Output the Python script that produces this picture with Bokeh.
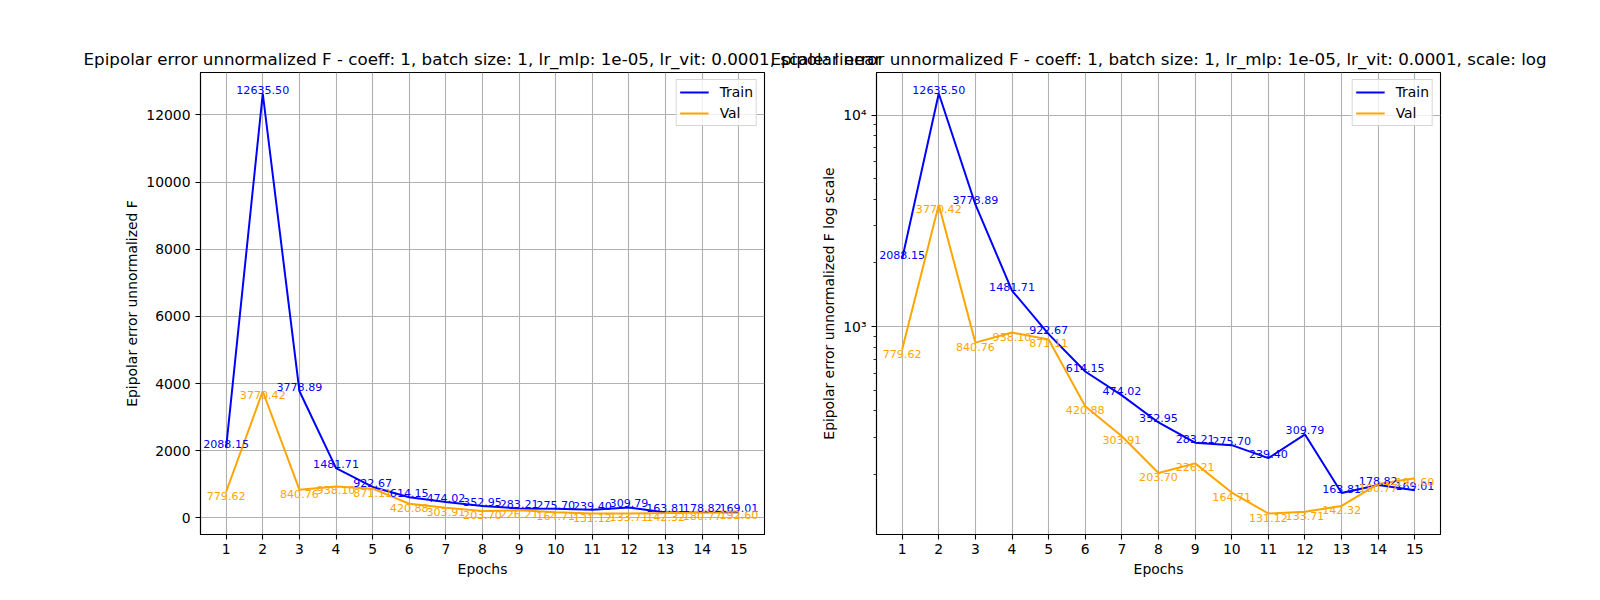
from bokeh.plotting import figure
from bokeh.layouts import column, row
from bokeh.models import ColumnDataSource, Range1d, FixedTicker, Label
from bokeh.core.properties import value
from bokeh.embed import file_html
from bokeh.resources import INLINE
import numpy as np

# values
epochs = list(range(1, 16))
train = [2088.15, 12635.50, 3778.89, 1481.71, 922.67, 614.15, 474.02, 352.95,
         283.21, 275.70, 239.40, 309.79, 163.81, 178.82, 169.01]
val = [779.62, 3770.42, 840.76, 938.10, 871.11, 420.88, 303.91, 203.70,
       226.21, 164.71, 131.12, 133.71, 142.32, 180.77, 192.60]

linear_ticks = [0, 2000, 4000, 6000, 8000, 10000, 12000]
log_ticks = [1000, 10000]
log_minor_ticks = [m * 10 ** e for e in (2, 3) for m in range(2, 10)]
log_tick_labels = {1000: "10³", 10000: "10⁴"}

title_base = ("Epipolar error unnormalized F - coeff: 1, batch size: 1, "
              "lr_mlp: 1e-05, lr_vit: 0.0001, scale: ")

FONT = "DejaVu Sans"
TRAIN_COLOR = "#0000ff"
VAL_COLOR = "#ffa500"
FRAME_W, FRAME_H = 564, 462


def style_axes(p):
    for ax in (p.xaxis, p.yaxis):
        ax.axis_line_color = "black"
        ax.axis_line_width = 1.1
        ax.major_tick_line_color = "black"
        ax.major_tick_line_width = 1.1
        ax.major_tick_out = 5
        ax.major_tick_in = 0
        ax.minor_tick_line_color = None
        ax.major_label_text_font = FONT
        ax.major_label_text_font_size = "13.9px"
        ax.major_label_text_color = "black"
        ax.axis_label_text_font = FONT
        ax.axis_label_text_font_size = "13.9px"
        ax.axis_label_text_font_style = "normal"
        ax.axis_label_text_color = "black"
    p.xaxis.major_label_standoff = 4
    p.xaxis.axis_label_standoff = 4
    p.yaxis.major_label_standoff = 5
    p.yaxis.axis_label_standoff = 3
    p.grid.grid_line_color = "#b0b0b0"
    p.grid.grid_line_width = 1.1
    p.outline_line_color = "black"
    p.outline_line_alpha = 1
    p.outline_line_width = 1.1
    p.xaxis.ticker = FixedTicker(ticks=epochs)
    p.xaxis.axis_label = "Epochs"


def make_panel(log_scale, y_range, y_label, border_left, border_right):
    p = figure(frame_width=FRAME_W, frame_height=FRAME_H,
               x_range=Range1d(0.3, 15.7), y_range=y_range,
               y_axis_type="log" if log_scale else "linear",
               min_border_left=border_left, min_border_right=border_right,
               min_border_top=0, min_border_bottom=50,
               output_backend="svg", toolbar_location=None)
    style_axes(p)
    p.yaxis.axis_label = y_label

    p.line(epochs, train, line_color=TRAIN_COLOR, line_width=2, legend_label="Train")
    p.line(epochs, val, line_color=VAL_COLOR, line_width=2, legend_label="Val")

    src_t = ColumnDataSource(dict(x=epochs, y=train, txt=[f"{v:.2f}" for v in train]))
    src_v = ColumnDataSource(dict(x=epochs, y=val, txt=[f"{v:.2f}" for v in val]))
    p.text(x="x", y="y", text="txt", source=src_t, text_color=TRAIN_COLOR,
           text_align="center", text_baseline="bottom",
           text_font=value(FONT), text_font_size="11.1px")
    p.text(x="x", y="y", text="txt", source=src_v, text_color=VAL_COLOR,
           text_align="center", text_baseline="top",
           text_font=value(FONT), text_font_size="11.1px")

    lg = p.legend[0]
    lg.location = "top_right"
    lg.margin = 7
    lg.padding = 3
    lg.spacing = 3
    lg.glyph_width = 29
    lg.glyph_height = 18
    lg.label_height = 18
    lg.label_standoff = 11
    lg.label_text_font = FONT
    lg.label_text_font_size = "13.9px"
    lg.label_text_color = "black"
    lg.border_line_color = "#cccccc"
    lg.border_line_alpha = 0.8
    lg.border_line_width = 1
    lg.background_fill_alpha = 0.8
    return p


all_vals = np.array(train + val)
lo, hi = all_vals.min(), all_vals.max()
pad = 0.05 * (hi - lo)
p1 = make_panel(False, Range1d(lo - pad, hi + pad),
                "Epipolar error unnormalized F", 200, 40)
p1.yaxis.ticker = FixedTicker(ticks=linear_ticks)

llo, lhi = np.log10(lo), np.log10(hi)
lpad = 0.05 * (lhi - llo)
p2 = make_panel(True, Range1d(10 ** (llo - lpad), 10 ** (lhi + lpad)),
                "Epipolar error unnormalized F log scale", 72, 140)
p2.yaxis.ticker = FixedTicker(ticks=log_ticks, minor_ticks=log_minor_ticks)
p2.yaxis.major_label_overrides = log_tick_labels
p2.yaxis.minor_tick_line_color = "black"
p2.yaxis.minor_tick_line_width = 0.8
p2.yaxis.minor_tick_out = 3
p2.yaxis.minor_tick_in = 0

# titles live in their own strip so they can overlap like the original
tf = figure(width=1580, height=72, x_range=Range1d(0, 1580), y_range=Range1d(0, 72),
            x_axis_type=None, y_axis_type=None, min_border=0,
            outline_line_color=None, output_backend="svg", toolbar_location=None)
tf.add_layout(Label(x=482, y=14, text=title_base + "linear", text_align="center",
                    text_baseline="alphabetic", text_font=FONT, text_font_size="16.7px",
                    text_color="black"))
tf.add_layout(Label(x=1158, y=14, text=title_base + "log", text_align="center",
                    text_baseline="alphabetic", text_font=FONT, text_font_size="16.7px",
                    text_color="black"))

layout = column(tf, row(p1, p2))
open("out.html", "w").write(file_html(layout, INLINE))
